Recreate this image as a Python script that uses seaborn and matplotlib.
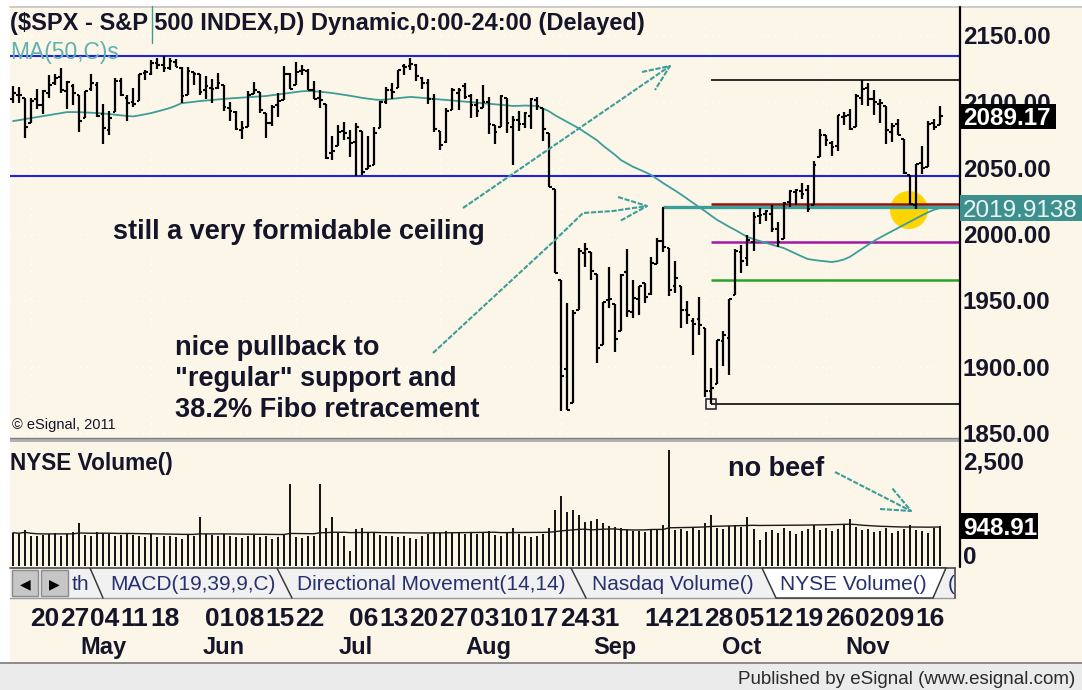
#!/usr/bin/env python3
"""
S&P 500 daily bars (Apr - Nov 2015) with 50-day MA, Fibonacci levels and
NYSE volume, laid out like an eSignal chart screenshot.
"""

import numpy as np
import pandas as pd
import matplotlib
matplotlib.use("Agg")
import matplotlib.pyplot as plt
import matplotlib.transforms as mtransforms
from matplotlib.patches import Rectangle, Circle, Polygon
from matplotlib.lines import Line2D
import seaborn as sns

W, H = 1082, 690

# trading days on the chart: 2015-04-15 .. 2015-11-20
holidays = ["2015-05-25", "2015-07-03", "2015-09-07"]

open_ = [
    # Apr
    2102.0, 2105.0, 2102.6, 2084.0, 2102.0, 2098.0, 2107.0, 2114.0, 2119.0, 2108.0, 2112.0, 2105.0,
    # May
    2088.0, 2110.0, 2112.6, 2091.0, 2079.0, 2092.0, 2115.6, 2102.9, 2099.6, 2100.4,
    2122.1, 2121.3, 2129.5, 2127.8, 2125.6, 2130.4, 2125.3, 2105.1, 2122.3, 2120.7,
    # Jun
    2108.6, 2110.4, 2110.6, 2112.4, 2095.1, 2092.3, 2079.1, 2081.1, 2106.2, 2107.4, 2091.3,
    2084.3, 2097.4, 2101.6, 2121.1, 2112.5, 2123.2, 2123.6, 2109.1, 2102.6, 2098.6, 2061.2,
    # Jul
    2067.0, 2078.0, 2073.0, 2069.5, 2077.7, 2049.7, 2052.7, 2080.0, 2099.7, 2109.0, 2110.6,
    2126.8, 2126.9, 2127.6, 2118.2, 2114.2, 2102.2, 2078.2, 2070.0, 2094.1, 2106.8, 2111.6,
    # Aug
    2104.5, 2097.7, 2095.3, 2100.1, 2082.6, 2080.9, 2102.7, 2081.1, 2086.2, 2083.2, 2089.7,
    2101.5, 2095.7, 2076.6, 2034.1, 1965.2, 1898.1, 1872.8, 1942.8, 1986.1, 1986.7,
    # Sep
    1970.1, 1916.5, 1950.8, 1947.8, 1927.3, 1971.5, 1941.6, 1951.5, 1963.1, 1955.1, 1978.0,
    1995.3, 1989.7, 1960.8, 1961.4, 1943.2, 1934.8, 1935.9, 1929.2, 1881.9, 1887.1,
    # Oct
    1919.7, 1921.8, 1954.3, 1986.6, 1982.3, 1994.0, 2013.7, 2015.7, 2015.0, 2003.7, 1996.5,
    2024.4, 2031.7, 2033.1, 2033.5, 2021.9, 2058.2, 2075.1, 2068.8, 2066.5, 2088.4, 2090.0,
    # Nov
    2080.8, 2102.6, 2110.6, 2101.9, 2098.6, 2096.6, 2077.2, 2083.4, 2072.3, 2044.6, 2022.1,
    2053.7, 2051.0, 2083.7, 2082.8,
]
high = [
    2111.9, 2111.0, 2102.6, 2103.0, 2109.6, 2109.0, 2120.5, 2120.9, 2125.9, 2116.0, 2113.6, 2105.0,
    2108.4, 2120.9, 2115.2, 2098.4, 2092.9, 2117.7, 2117.7, 2105.1, 2110.2, 2121.4,
    2123.9, 2131.8, 2133.0, 2134.7, 2133.3, 2132.2, 2126.2, 2126.1, 2122.3, 2120.7,
    2119.2, 2117.6, 2121.9, 2112.9, 2100.0, 2093.0, 2085.6, 2108.5, 2115.0, 2107.4, 2091.3,
    2097.4, 2106.8, 2126.7, 2121.6, 2129.9, 2128.0, 2125.1, 2116.0, 2108.9, 2098.6, 2074.3,
    2082.8, 2085.1, 2078.6, 2083.7, 2077.7, 2074.3, 2081.3, 2100.7, 2111.4, 2114.1, 2124.4,
    2128.9, 2132.8, 2128.5, 2118.5, 2116.9, 2106.0, 2078.2, 2095.6, 2110.6, 2110.5, 2114.2,
    2105.7, 2102.5, 2112.7, 2103.3, 2082.6, 2105.4, 2102.7, 2089.1, 2092.9, 2092.5, 2102.9,
    2103.5, 2095.7, 2076.6, 2034.1, 1965.2, 1948.0, 1943.1, 1989.6, 1993.5, 1986.7,
    1970.1, 1948.9, 1975.0, 1947.8, 1970.4, 1988.6, 1965.3, 1961.1, 1963.1, 1983.2, 1997.3,
    2020.9, 1989.7, 1979.6, 1961.4, 1949.5, 1937.2, 1952.9, 1929.2, 1899.5, 1920.5,
    1927.2, 1951.4, 1989.2, 1991.6, 1999.3, 2016.5, 2020.1, 2018.7, 2022.3, 2009.6, 2024.2,
    2033.5, 2034.5, 2039.1, 2037.0, 2055.2, 2079.7, 2075.1, 2070.4, 2090.4, 2092.5, 2094.3,
    2106.2, 2116.5, 2114.6, 2108.8, 2101.9, 2096.6, 2083.7, 2086.9, 2072.3, 2044.6, 2053.2,
    2066.7, 2085.3, 2086.7, 2097.1,
]
low = [
    2098.9, 2099.5, 2073.0, 2084.0, 2094.4, 2091.0, 2103.0, 2112.8, 2107.0, 2094.9, 2097.4, 2077.6,
    2087.6, 2108.2, 2088.5, 2067.9, 2074.9, 2092.0, 2104.6, 2085.6, 2096.0, 2100.4,
    2116.8, 2120.0, 2124.5, 2122.6, 2123.9, 2126.1, 2099.2, 2105.1, 2112.9, 2104.9,
    2102.5, 2099.1, 2109.6, 2093.2, 2085.7, 2079.1, 2072.1, 2081.1, 2106.2, 2091.3, 2072.5,
    2082.1, 2088.9, 2101.6, 2109.5, 2112.5, 2119.9, 2108.6, 2102.3, 2095.4, 2056.6, 2056.3,
    2067.0, 2071.0, 2058.4, 2044.0, 2044.7, 2049.7, 2052.7, 2080.0, 2098.2, 2102.5, 2110.6,
    2119.9, 2123.7, 2115.4, 2110.0, 2098.6, 2077.1, 2063.5, 2069.1, 2094.1, 2094.1, 2102.1,
    2088.0, 2088.6, 2095.3, 2075.5, 2067.9, 2080.9, 2076.5, 2052.1, 2078.3, 2080.6, 2079.3,
    2094.1, 2070.5, 2035.7, 1970.9, 1867.0, 1867.1, 1872.8, 1942.8, 1975.2, 1965.9,
    1903.1, 1916.5, 1944.7, 1911.2, 1927.3, 1937.9, 1937.2, 1939.2, 1948.3, 1954.3, 1977.9,
    1986.7, 1953.5, 1955.8, 1929.2, 1932.6, 1908.9, 1923.8, 1876.9, 1871.9, 1887.1,
    1900.7, 1893.7, 1954.3, 1971.2, 1976.4, 1987.5, 2007.6, 2010.3, 2001.8, 1990.7, 1996.5,
    2020.5, 2022.3, 2026.6, 2017.2, 2021.9, 2058.2, 2066.5, 2058.8, 2063.1, 2082.6, 2079.1,
    2080.8, 2097.5, 2097.0, 2090.4, 2083.7, 2068.2, 2069.9, 2074.9, 2045.7, 2022.0, 2019.4,
    2045.9, 2051.0, 2078.8, 2082.8,
]
close = [
    2106.6, 2105.0, 2081.2, 2100.4, 2097.3, 2108.0, 2112.9, 2117.7, 2108.9, 2114.8, 2106.9, 2085.5,
    2108.3, 2114.5, 2089.5, 2080.2, 2088.0, 2116.1, 2105.3, 2099.1, 2098.5, 2121.1,
    2122.7, 2129.2, 2127.8, 2125.9, 2130.8, 2126.1, 2104.2, 2123.5, 2120.8, 2107.4,
    2111.7, 2109.6, 2114.1, 2095.8, 2092.8, 2079.3, 2080.2, 2105.2, 2108.9, 2094.1, 2084.4,
    2096.3, 2100.4, 2121.2, 2110.0, 2122.9, 2124.2, 2108.6, 2102.3, 2101.5, 2057.6, 2063.1,
    2077.4, 2076.8, 2068.8, 2081.3, 2046.7, 2051.3, 2076.6, 2099.6, 2109.0, 2107.4, 2124.3,
    2126.6, 2128.3, 2119.2, 2114.2, 2102.2, 2079.7, 2067.6, 2093.3, 2108.6, 2108.6, 2103.8,
    2098.0, 2093.3, 2099.8, 2083.6, 2077.6, 2104.2, 2084.1, 2086.1, 2083.4, 2091.5, 2102.4,
    2096.9, 2079.6, 2035.7, 1970.9, 1893.2, 1867.6, 1940.5, 1987.7, 1988.9, 1972.2,
    1913.9, 1948.9, 1951.1, 1921.2, 1969.4, 1942.0, 1952.3, 1961.1, 1953.0, 1978.1, 1995.3,
    1990.2, 1958.0, 1967.0, 1942.7, 1938.8, 1932.2, 1931.3, 1881.8, 1884.1, 1920.0,
    1923.8, 1951.4, 1987.1, 1979.9, 1995.8, 2013.4, 2014.9, 2017.5, 2003.7, 1994.2, 2023.9,
    2033.1, 2033.7, 2030.8, 2018.9, 2052.5, 2075.2, 2071.2, 2065.9, 2090.4, 2089.4, 2079.4,
    2104.1, 2109.8, 2102.3, 2099.9, 2099.2, 2078.6, 2081.7, 2075.0, 2046.0, 2023.0, 2053.2,
    2050.4, 2083.6, 2081.2, 2089.17,
]
ma50 = [
    2085.5, 2086.2, 2087.0, 2087.8, 2088.5, 2089.3, 2090.0, 2090.8, 2091.5, 2092.3, 2092.3, 2092.2,
    2092.0, 2091.8, 2091.6, 2091.2, 2090.8, 2090.3, 2089.8, 2089.3, 2089.0, 2089.8,
    2090.7, 2091.6, 2092.8, 2094.0, 2095.3, 2097.0, 2099.0, 2099.5, 2100.0, 2100.6,
    2101.0, 2101.4, 2101.8, 2102.2, 2102.6, 2102.9, 2103.2, 2103.5, 2103.8, 2104.1, 2104.4,
    2105.0, 2105.6, 2106.2, 2106.8, 2107.4, 2108.0, 2108.2, 2108.0, 2107.6, 2107.2, 2106.7,
    2106.0, 2105.3, 2104.6, 2103.8, 2103.0, 2102.4, 2101.8, 2101.4, 2101.8, 2102.3, 2102.8,
    2103.3, 2103.7, 2103.4, 2103.0, 2102.6, 2102.2, 2101.8, 2101.4, 2101.0, 2100.6, 2100.2,
    2099.8, 2099.4, 2099.0, 2098.6, 2098.2, 2097.8, 2097.4, 2096.9, 2097.0, 2097.2, 2097.1,
    2096.9, 2095.0, 2093.0, 2090.0, 2087.5, 2085.0, 2082.5, 2080.0, 2077.0, 2074.0,
    2071.0, 2067.0, 2063.5, 2060.0, 2056.0, 2053.5, 2051.0, 2049.0, 2047.0, 2044.8, 2041.7,
    2038.7, 2035.8, 2033.0, 2030.0, 2026.8, 2023.6, 2020.4, 2017.4, 2014.0, 2010.8,
    2008.2, 2005.6, 2003.2, 2000.6, 1998.0, 1996.5, 1995.0, 1993.7, 1992.3, 1991.0, 1989.7,
    1987.6, 1985.5, 1983.4, 1981.4, 1980.7, 1980.1, 1979.6, 1979.1, 1979.8, 1981.0, 1983.0,
    1986.0, 1989.0, 1992.0, 1995.0, 1997.5, 2000.0, 2002.4, 2004.8, 2007.2, 2009.6, 2012.0,
    2014.4, 2016.7, 2018.6, 2019.9138,
]
volume = [
    790, 760, 850, 700, 720, 740, 760, 780, 720, 760, 800, 1020,
    740, 720, 800, 780, 760, 700, 740, 790, 730, 720,
    680, 760, 690, 700, 720, 680, 640, 740, 720, 1160,
    760, 740, 720, 760, 700, 680, 660, 720, 740, 680, 700,
    640, 690, 760, 1940, 680, 660, 700, 720, 1940, 900, 1160,
    780, 700, 360, 880, 900, 800, 780, 740, 700, 720, 680,
    700, 660, 640, 720, 760, 800, 780, 820, 790, 800, 760,
    780, 760, 800, 820, 740, 720, 800, 900, 760, 720, 680,
    700, 760, 900, 1330, 1660, 1280, 1330, 1210, 1050, 1070,
    1110, 1020, 940, 920, 900, 860, 840, 820, 800, 860, 880,
    960, 2750, 860, 880, 840, 900, 860, 1020, 1210, 900,
    880, 940, 960, 920, 1160, 880, 620, 800, 860, 780, 900,
    820, 760, 840, 880, 960, 860, 900, 820, 880, 960, 1110,
    920, 860, 880, 800, 840, 900, 780, 840, 880, 960, 860,
    820, 780, 900, 948.91,
]

resistance = [2134.7, 2044.0]          # blue horizontals
fib_ratios = [0.382, 0.5, 0.618]
fib_colors = ["#8c1414", "#a21aa2", "#27a327"]
price_ticks = [2150, 2100, 2050, 2000, 1950, 1900, 1850]
week_dates = ["2015-04-20", "2015-04-27", "2015-05-04", "2015-05-11", "2015-05-18",
              "2015-06-01", "2015-06-08", "2015-06-15", "2015-06-22",
              "2015-07-06", "2015-07-13", "2015-07-20", "2015-07-27",
              "2015-08-03", "2015-08-10", "2015-08-17", "2015-08-24", "2015-08-31",
              "2015-09-14", "2015-09-21", "2015-09-28",
              "2015-10-05", "2015-10-12", "2015-10-19", "2015-10-26",
              "2015-11-02", "2015-11-09", "2015-11-16"]
month_names = ["May", "Jun", "Jul", "Aug", "Sep", "Oct", "Nov"]
month_dates = ["2015-05-06", "2015-06-04", "2015-07-07", "2015-08-06",
               "2015-09-04", "2015-10-06", "2015-11-04"]
tab_names = ["th", "MACD(19,39,9,C)", "Directional Movement(14,14)",
             "Nasdaq Volume()", "NYSE Volume()", "("]

CREAM = "#fcf6e8"
TEAL = "#3c9d99"
BLUE = "#2020e6"
TXT = "#15152a"
NAVY = "#26306e"

sns.set_style("white")
plt.rcParams["font.family"] = ["Liberation Sans", "DejaVu Sans"]

days = pd.bdate_range("2015-04-15", "2015-11-20")
days = days[~days.isin(pd.to_datetime(holidays))]
pos = {d: i for i, d in enumerate(days.strftime("%Y-%m-%d"))}
bars = pd.DataFrame({"day": np.arange(len(days)), "open": open_, "high": high,
                     "low": low, "close": close, "ma50": ma50, "volume": volume})
bars["vol_avg"] = bars["volume"].rolling(50, min_periods=1).mean()

fig = plt.figure(figsize=(W / 100, H / 100), dpi=100, facecolor="white")
# pixel coordinates measured from the top-left corner
px = mtransforms.Affine2D().scale(1.0 / W, -1.0 / H).translate(0, 1) + fig.transFigure


def frame(l, t, r, b):
    return [l / W, 1 - b / H, (r - l) / W, (b - t) / H]


def label(x, yc, s, size, **kw):
    # put the cap-height centre of the text at yc (pixels from top)
    kw.setdefault("color", TXT)
    fig.text(x / W, 1 - (yc + 0.358 * size / 0.72) / H, s, fontsize=size,
             va="baseline", **kw)


def rect(l, t, r, b, **kw):
    fig.add_artist(Rectangle((l, t), r - l, b - t, transform=px, **kw))


def hline(x0, x1, y, **kw):
    fig.add_artist(Line2D([x0, x1], [y, y], transform=px, **kw))


# background areas
rect(10, 7, W, 663, fc=CREAM, ec="none", zorder=-10)
rect(0, 663, W, H, fc="#ebebeb", ec="none", zorder=-10)
hline(10, W, 7, color="#c4c4c4", lw=1.2)
hline(0, W, 663, color="#7a7a7a", lw=1.2)

# ---- price pane ----
ax = fig.add_axes(frame(10, 7, 960, 438))
ax.set_xlim(-0.5, 157.3)
ax.set_ylim(1846.3, 2171.6)
ax.axis("off")
xmax = ax.get_xlim()[1]

for p in price_ticks:
    ax.axhline(p, color="white", lw=1, ls=(0, (1, 4)), zorder=0.5)
for d in week_dates[::4]:
    ax.axvline(pos[d], color="white", lw=1, ls=(0, (1, 4)), zorder=0.5)

ax.add_patch(Circle((909, 210), 19, transform=px, fc="#ffd500", ec="none", zorder=1))

for r in resistance:
    ax.axhline(r, color=BLUE, lw=1.5, zorder=2)

# Fibonacci retracement of the Sep 29 low -> Nov 3 high swing
swing_lo = pos["2015-09-29"]
lo = bars["low"][swing_lo]
hi = bars["high"][swing_lo:].max()
sep17 = pos["2015-09-17"]
ax.hlines(bars["high"][sep17], sep17, xmax, color=TEAL, lw=2.4, zorder=2)
ax.hlines([hi, lo], swing_lo, xmax, color="#1a1a1a", lw=1.3, zorder=2)
for ratio, c in zip(fib_ratios, fib_colors):
    ax.hlines(hi - ratio * (hi - lo), swing_lo, xmax, color=c, lw=1.8, zorder=2.2)
ax.plot(swing_lo, lo, marker="s", ms=7, mfc="none", mec="#2a2a3a", mew=1.2, zorder=3)

sns.lineplot(data=bars, x="day", y="ma50", ax=ax, color=TEAL, lw=1.3, zorder=2.5)
ax.set_xlim(-0.5, 157.3)
ax.set_ylim(1846.3, 2171.6)

d = bars["day"]
ax.vlines(d, bars["low"], bars["high"], color="black", lw=1.6, zorder=4)
ax.hlines(bars["open"], d - 0.45, d, color="black", lw=1.5, zorder=4)
ax.hlines(bars["close"], d, d + 0.45, color="black", lw=1.5, zorder=4)


def sketch(points):
    xs, ys = zip(*points)
    fig.add_artist(Line2D(xs, ys, transform=px, color=TEAL, lw=1.5,
                          ls=(0, (2.5, 0.8)), zorder=6))


sketch([(463, 208), (670, 66)])
sketch([(642, 72), (670, 66), (655, 90)])
sketch([(433, 353), (553, 242), (583, 213), (613, 211), (647, 206)])
sketch([(618, 197), (647, 206), (620, 221)])
sketch([(835, 472), (911, 511)])
sketch([(880, 509), (911, 511), (892, 488)])


def price_px(p, axis=ax):
    return H - axis.transData.transform((0, p))[1]


# ---- volume pane ----
rect(10, 438, 960, 442, fc="#b2b2b2", ec="none", zorder=1)
hline(10, 960, 438, color="#808080", lw=1)
vax = fig.add_axes(frame(10, 442, 960, 566))
vax.set_xlim(-0.5, 157.3)
vax.set_ylim(0, 2938)
vax.axis("off")
vax.vlines(d, 0, bars["volume"], color="black", lw=1.3)
sns.lineplot(data=bars, x="day", y="vol_avg", ax=vax, color="#1a1a1a", lw=1.0)
vax.set_xlim(-0.5, 157.3)
vax.set_ylim(0, 2938)

# right-hand axis line
fig.add_artist(Line2D([960, 960], [7, 567], transform=px, color="black", lw=1.6))

# price scale labels and value boxes
for p in price_ticks:
    label(963, price_px(p), f"{p:.2f}", 17.5, weight="bold")
y_last = price_px(bars["close"].iloc[-1])
rect(960, y_last - 12.5, 1056, y_last + 12.5, fc="black", ec="none", zorder=4)
label(963, y_last, f"{bars['close'].iloc[-1]:.2f}", 17.5, weight="bold", color="white", zorder=5)
y_ma = price_px(bars["ma50"].iloc[-1])
rect(960, y_ma - 13, W, y_ma + 13, fc="#3d908d", ec="none", zorder=4)
label(963, y_ma, f"{bars['ma50'].iloc[-1]:.4f}", 17.5, color="#eef7f7", zorder=5)

label(963, price_px(2500, vax), "2,500", 17.5, weight="bold")
y_vol = price_px(bars["volume"].iloc[-1], vax)
rect(960, y_vol - 13, 1038, y_vol + 13, fc="black", ec="none", zorder=4)
label(963, y_vol, f"{bars['volume'].iloc[-1]:.2f}", 17.5, weight="bold", color="white", zorder=5)
label(963, 555, "0", 17.5, weight="bold")

# ---- texts on the chart ----
label(10, 22, "($SPX - S&P 500 INDEX,D) Dynamic,0:00-24:00 (Delayed)", 17, weight="bold")
label(10, 51, "MA(50,C)s", 16.5, color="#5fb2af")
fig.add_artist(Line2D([152, 152], [6, 43], transform=px, color=TEAL, lw=1))
label(113, 229, "still a very formidable ceiling", 19.5, weight="bold")
label(175, 345, "nice pullback to", 19.5, weight="bold")
label(175, 376, '"regular" support and', 19.5, weight="bold")
label(175, 407, "38.2% Fibo retracement", 19.5, weight="bold")
label(728, 466, "no beef", 19.5, weight="bold")
label(12, 424, "\u00a9 eSignal, 2011", 10.5)
label(10, 462, "NYSE Volume()", 16.3, weight="bold")

# ---- tab strip ----
rect(10, 568, 955, 598, fc="#f1f1f1", ec="none", zorder=1)
hline(10, 955, 568, color="#4a4a4a", lw=1.2, zorder=2)
hline(10, 955, 598, color="#9a9a9a", lw=1, zorder=2)
fig.add_artist(Line2D([955, 955], [568, 598], transform=px, color="#4a4a4a", lw=1.2))
fig.add_artist(Polygon([(762, 568), (946, 568), (933, 598), (776, 598)], closed=True,
                       transform=px, fc="white", ec="#3a3a3a", lw=1.1, zorder=2))
for xa, xb in [(90, 103), (277, 292), (571, 586)]:
    fig.add_artist(Line2D([xa, xb], [568, 598], transform=px, color="#3a3a3a", lw=1.1, zorder=3))
rect(12, 570, 38, 596, fc="#c6c6c6", ec="#8a8a8a", lw=1, zorder=3)
rect(41, 570, 68, 596, fc="#c6c6c6", ec="#8a8a8a", lw=1, zorder=3)
label(20, 583, "\u25c0", 10, color="black", zorder=4)
label(49, 583, "\u25b6", 10, color="black", zorder=4)
for name, xt in zip(tab_names, [72, 110, 297, 592, 780, 948]):
    label(xt, 583, name, 15, color=NAVY, zorder=4)

# ---- date scale ----
date_tf = mtransforms.blended_transform_factory(ax.transData, px)
for dt in week_dates:
    fig.text(pos[dt] - 0.15, 617 + 0.358 * 19 / 0.72, dt[-2:], transform=date_tf,
             fontsize=19, weight="bold", color=TXT, ha="left", va="baseline")
for name, dt in zip(month_names, month_dates):
    fig.text(pos[dt], 646 + 0.358 * 17 / 0.72, name, transform=date_tf,
             fontsize=17, weight="bold", color=TXT, ha="center", va="baseline")

label(1075, 677, "Published by eSignal (www.esignal.com)", 13.5, color="#2a2a2a", ha="right")

fig.savefig("out.png", dpi=100, facecolor=fig.get_facecolor())
